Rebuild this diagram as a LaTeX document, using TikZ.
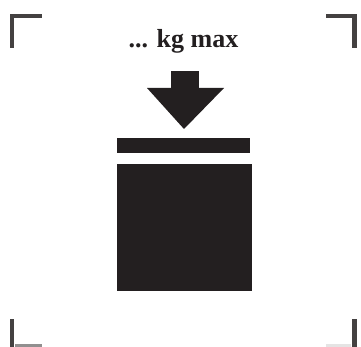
\documentclass[tikz,border=0pt]{standalone}
\usepackage{fontspec}
\setmainfont{Liberation Serif}
\definecolor{inkdark}{HTML}{231F20}
\begin{document}
\begin{tikzpicture}[x=0.02646cm, y=-0.02646cm]
        \tikzstyle{solid ink}=[fill=inkdark, draw=none]
        \tikzstyle{corner}=[draw=inkdark!85, line width=0.13cm, miter limit=10]
        \tikzstyle{corner faint}=[draw=inkdark!50, line width=0.07cm]

        \useasboundingbox (0,0) rectangle (361,347);

        % Crop corners
        \draw[corner] (12,48) -- (12,16) -- (42,16);
        \draw[corner] (326,16) -- (354.5,16) -- (354.5,48);
        \draw[corner] (12,319) -- (12,347);
        \draw[corner] (354.5,319) -- (354.5,347);
        \draw[corner faint] (15,345.5) -- (42,345.5);
        \draw[draw=inkdark!12, line width=0.07cm] (326,345.5) -- (351,345.5);

        % Label
        \node[font=\bfseries\fontsize{19.6pt}{22pt}\selectfont, text=inkdark, anchor=base, inner sep=0pt] (lblMax) at (183.5,47.5) {... kg max};

        % Arrow
        \fill[solid ink] (171,71) rectangle (199,90);
        \fill[solid ink] (147,88) -- (224,88) -- (184,129) -- cycle;

        % Plate and block
        \fill[solid ink] (117,138) rectangle (250,153);
        \fill[solid ink] (117,164) rectangle (252,291);
    \end{tikzpicture}
\end{document}
